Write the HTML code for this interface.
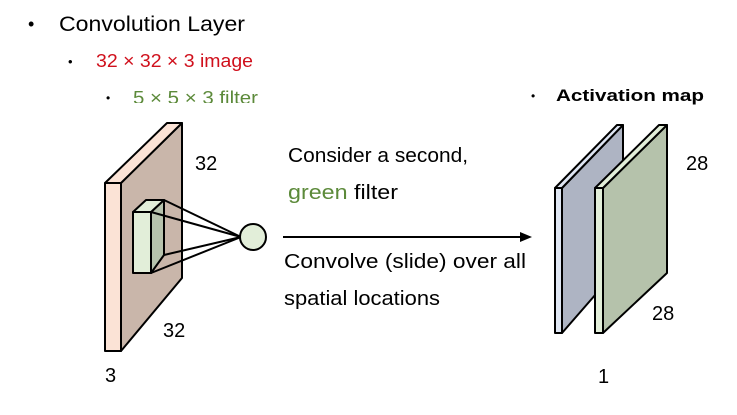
<!DOCTYPE html>
<html><head><meta charset="utf-8"><style>
html,body{margin:0;padding:0;background:#fff;width:737px;height:415px;overflow:hidden}
svg{display:block}
text{font-family:"Liberation Sans",sans-serif}
</style></head><body>
<svg width="737" height="415" viewBox="0 0 737 415" xmlns="http://www.w3.org/2000/svg">
<defs><clipPath id="c1"><rect x="0" y="80" width="300" height="23"/></clipPath></defs>
<text x="28" y="30" font-size="18">•</text>
<text x="59" y="31" font-size="21" textLength="186" lengthAdjust="spacingAndGlyphs">Convolution Layer</text>
<text x="68" y="66" font-size="13">•</text>
<text x="96" y="67" font-size="18" fill="#d0101c" textLength="157" lengthAdjust="spacingAndGlyphs">32 × 32 × 3 image</text>
<g clip-path="url(#c1)">
<text x="106" y="102" font-size="12">•</text>
<text x="133" y="104" font-size="18" fill="#5c8a3a" textLength="125" lengthAdjust="spacingAndGlyphs">5 × 5 × 3 filter</text>
</g>
<text x="531" y="100" font-size="12">•</text>
<text x="556" y="101" font-size="17" font-weight="bold" textLength="148" lengthAdjust="spacingAndGlyphs">Activation map</text>

<g stroke="#000" stroke-width="2" stroke-linejoin="round">
<polygon points="121,183 182,123 182,278 121,351" fill="#c9b6aa"/>
<polygon points="105,183 167,123 182,123 121,183" fill="#fbe3d6"/>
<rect x="105" y="183" width="16" height="168" fill="#fbe3d6"/>
<polygon points="151,212 164,200 164,255 151,273" fill="#b7c3ad"/>
<polygon points="133,212 146,200 164,200 151,212" fill="#e2eed9"/>
<rect x="133" y="212" width="18" height="61" fill="#e2eed9"/>
<line x1="164" y1="200" x2="241" y2="237"/>
<line x1="151" y1="212" x2="241" y2="237"/>
<line x1="164" y1="255" x2="241" y2="237"/>
<line x1="151" y1="273" x2="241" y2="237"/>
<circle cx="253" cy="237" r="13" fill="#e2eed9"/>
</g>
<text x="195" y="170" font-size="20">32</text>
<text x="163" y="337" font-size="20">32</text>
<text x="105" y="382" font-size="20">3</text>

<text x="288" y="162" font-size="20" textLength="180" lengthAdjust="spacingAndGlyphs">Consider a second,</text>
<text x="288" y="199" font-size="20" textLength="110" lengthAdjust="spacingAndGlyphs"><tspan fill="#5c8a3a">green</tspan> filter</text>
<line x1="283" y1="237" x2="522" y2="237" stroke="#000" stroke-width="2"/>
<polygon points="532,237 520,232 520,242" fill="#000"/>
<text x="284" y="268" font-size="20" textLength="242" lengthAdjust="spacingAndGlyphs">Convolve (slide) over all</text>
<text x="284" y="305" font-size="20" textLength="156" lengthAdjust="spacingAndGlyphs">spatial locations</text>

<g stroke="#000" stroke-width="2" stroke-linejoin="round">
<polygon points="562,188 623,125 623,263 562,333" fill="#aeb4c3"/>
<polygon points="555,188 617,125 623,125 562,188" fill="#dfe6f3"/>
<rect x="555" y="188" width="7" height="145" fill="#dfe6f3"/>
<polygon points="603,188 667,125 667,273 603,333" fill="#b5c2ab"/>
<polygon points="595,188 659,125 667,125 603,188" fill="#e2eed9"/>
<rect x="595" y="188" width="8" height="145" fill="#e2eed9"/>
</g>
<text x="686" y="170" font-size="20">28</text>
<text x="652" y="320" font-size="20">28</text>
<text x="598" y="383" font-size="20">1</text>
</svg>
</body></html>
